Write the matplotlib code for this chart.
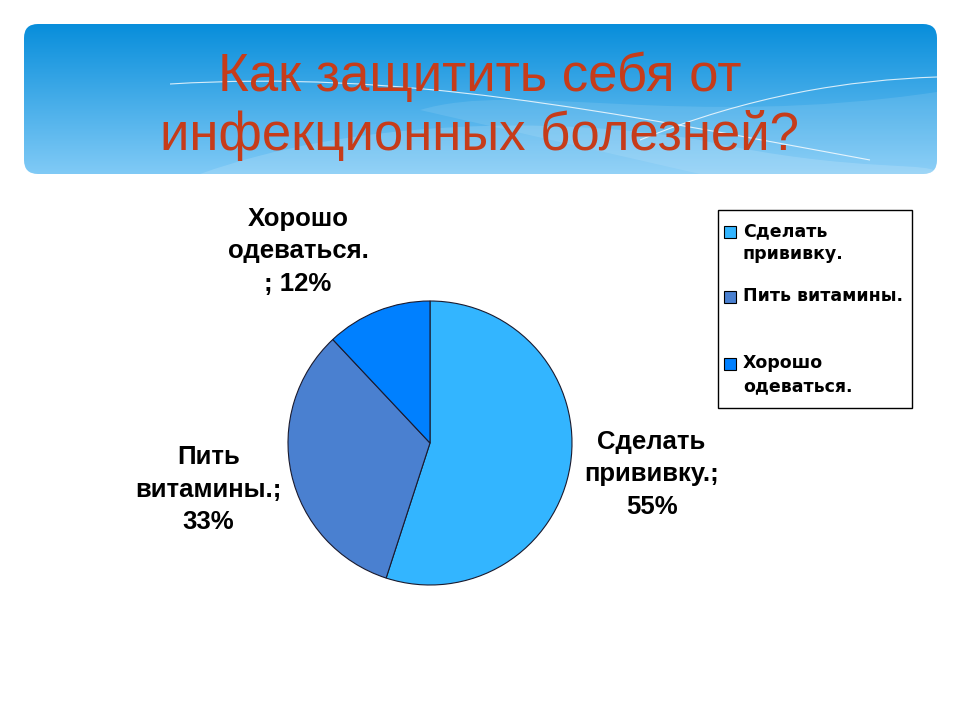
import numpy as np
import matplotlib
matplotlib.use('Agg')
import matplotlib.pyplot as plt
from matplotlib.patches import FancyBboxPatch, Rectangle
from matplotlib.path import Path
from matplotlib.patches import PathPatch

title = 'Как защитить себя от\nинфекционных болезней?'
categories = ['Сделать прививку.', 'Пить витамины.', 'Хорошо одеваться.']
legend_labels = ['Сделать\nпрививку.', 'Пить витамины.', 'Хорошо\nодеваться.']
pie_labels = ['Сделать\nпрививку.;\n55%', 'Пить\nвитамины.;\n33%', 'Хорошо\nодеваться.\n; 12%']
values = [55, 33, 12]
colors = ['#33b5ff', '#4a80d0', '#0080ff']

W, H = 960, 720
fig = plt.figure(figsize=(9.6, 7.2), dpi=100)
fig.patch.set_facecolor('white')

# background layer in pixel coordinates
bg = fig.add_axes([0, 0, 1, 1])
bg.set_xlim(0, W)
bg.set_ylim(H, 0)
bg.axis('off')

band = FancyBboxPatch((24, 24), 913, 150, boxstyle='round,pad=0,rounding_size=14',
                      facecolor='none', edgecolor='none')
bg.add_patch(band)
grad = np.linspace(0, 1, 256)[:, None]
top = np.array([0x08, 0x8e, 0xdb]) / 255
bot = np.array([0x80, 0xca, 0xf6]) / 255
img = top[None, None, :] * (1 - grad[:, :, None]) + bot[None, None, :] * grad[:, :, None]
im = bg.imshow(img, extent=(24, 937, 174, 24), aspect='auto', zorder=1)
im.set_clip_path(band)

# soft light waves
wave = Path([(200, 174), (350, 120), (550, 115), (700, 140), (860, 175), (937, 160), (937, 174), (200, 174)],
            [Path.MOVETO, Path.CURVE4, Path.CURVE4, Path.CURVE4, Path.CURVE4, Path.CURVE4,
             Path.LINETO, Path.CLOSEPOLY])
wp = PathPatch(wave, facecolor='white', edgecolor='none', alpha=0.15, zorder=2)
bg.add_patch(wp)
wp.set_clip_path(band)
wave2 = Path([(420, 110), (520, 80), (680, 130), (937, 92), (937, 174), (700, 174), (420, 110)],
             [Path.MOVETO, Path.CURVE4, Path.CURVE4, Path.CURVE4, Path.LINETO, Path.LINETO, Path.CLOSEPOLY])
wp2 = PathPatch(wave2, facecolor='white', edgecolor='none', alpha=0.10, zorder=2)
bg.add_patch(wp2)
wp2.set_clip_path(band)
line1 = Path([(170, 84), (400, 70), (600, 110), (870, 160)], [Path.MOVETO, Path.CURVE4, Path.CURVE4, Path.CURVE4])
line2 = Path([(640, 140), (750, 95), (850, 80), (937, 77)], [Path.MOVETO, Path.CURVE4, Path.CURVE4, Path.CURVE4])
for ln in (line1, line2):
    lp = PathPatch(ln, facecolor='none', edgecolor='white', lw=0.8, alpha=0.8, zorder=3)
    bg.add_patch(lp)
    lp.set_clip_path(band)

bg.text(480, 106, title, ha='center', va='center', fontsize=38, color='#c63c1a',
        family='Liberation Sans', linespacing=1.2, zorder=4)

# pie
cx, cy, r = 430, 443, 142
ax = fig.add_axes([(cx - r) / W, (H - cy - r) / H, 2 * r / W, 2 * r / H])
wedges, _ = ax.pie(values, colors=colors, startangle=90, counterclock=False, radius=1,
                   wedgeprops=dict(edgecolor='#1a1a2e', linewidth=0.8))
ax.set_xlim(-1, 1)
ax.set_ylim(-1, 1)
ax.set_aspect('equal')
ax.axis('off')

label_pos = [(1.56, -0.22), (-1.56, -0.33), (-0.93, 1.35)]
for lab, (x, y) in zip(pie_labels, label_pos):
    ax.text(x, y, lab, ha='center', va='center', fontsize=18.5, fontweight='bold',
            family='Liberation Sans', linespacing=1.45, clip_on=False)

# legend box
bg.add_patch(Rectangle((718, 210), 194, 198, facecolor='white', edgecolor='black', lw=1, zorder=2))
leg_y = [232, 297, 364]
for c, lab, y in zip(colors, legend_labels, leg_y):
    bg.add_patch(Rectangle((724, y - 6), 12, 12, facecolor=c, edgecolor='black', lw=0.8, zorder=3))
    bg.text(743, y - 10, lab, ha='left', va='top', fontsize=12.5, fontweight='bold',
            family='DejaVu Sans', linespacing=1.35, zorder=3)

fig.savefig('out.png', dpi=100)
